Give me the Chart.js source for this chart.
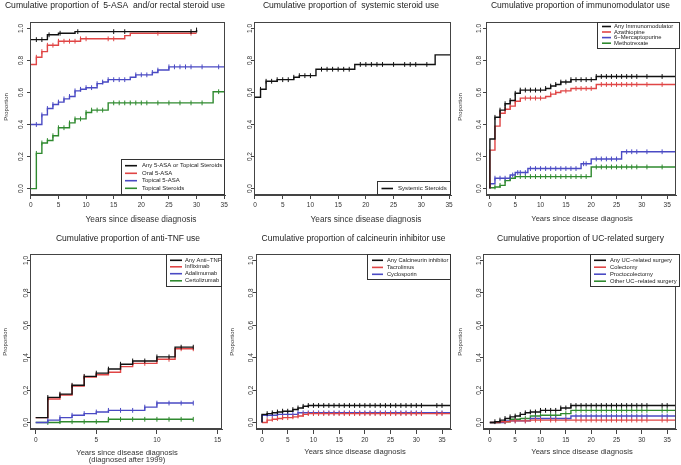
<!DOCTYPE html>
<html><head><meta charset="utf-8">
<script src="https://cdn.jsdelivr.net/npm/chart.js@4.4.1/dist/chart.umd.min.js"></script>
<style>
html,body{margin:0;padding:0;background:#fff;}
#wrap{position:relative;width:681px;height:465px;overflow:hidden;background:#fff;}
canvas{position:absolute;left:0;top:0;}
</style></head><body>
<div id="wrap">
<canvas id="p1" width="681" height="465"></canvas>
<canvas id="p2" width="681" height="465"></canvas>
<canvas id="p3" width="681" height="465"></canvas>
<canvas id="p4" width="681" height="465"></canvas>
<canvas id="p5" width="681" height="465"></canvas>
<canvas id="p6" width="681" height="465"></canvas>
</div>
<script>
// ================= DATA =================
const xTicks35 = [0,5,10,15,20,25,30,35];
const xTicks15 = [0,5,10,15];
const yTicks = [0,0.2,0.4,0.6,0.8,1.0];
const yTickLabels = ['0.0','0.2','0.4','0.6','0.8','1.0'];

const titleAsa = 'Cumulative proportion of  5-ASA  and/or rectal steroid use';
const titleSys = 'Cumulative proportion of  systemic steroid use';
const titleImm = 'Cumulative proportion of immunomodulator use';
const titleTnf = 'Cumulative proportion of anti-TNF use';
const titleCni = 'Cumulative proportion of calcineurin inhibitor use';
const titleSurg = 'Cumulative proportion of UC-related surgery';
const xAxisTitle = ['Years since disease diagnosis'];
const xAxisTitleTnf = ['Years since disease diagnosis', '(diagnosed after 1999)'];
const yAxisTitle = 'Proportion';

// Panel 1: 5-ASA / rectal steroids
const asaLabels = ['Any 5-ASA or Topical Steroids','Oral 5-ASA','Topical 5-ASA','Topical Steroids'];
const asaAnyT = [0,3,5,8,30];
const asaAnyV = [0.93,0.96,0.97,0.98,0.99];
const asaAnyEnd = 30;
const asaAnyCens = [1,2,3.3,5.3,8.5,15,17,29,30];
const oralT = [0,1,2,3,5,9,17,18];
const oralV = [0.775,0.82,0.855,0.895,0.92,0.935,0.955,0.97];
const oralEnd = 30;
const oralCens = [1,2,3,4,5,6,7,8,9,10,14,15,23,29];
const topAsaT = [0,2,3,4,5,6,7,8,9,10,12,13,14,18,19,22,23,25];
const topAsaV = [0.40,0.46,0.50,0.525,0.54,0.56,0.575,0.61,0.62,0.63,0.655,0.665,0.68,0.695,0.71,0.725,0.74,0.76];
const topAsaEnd = 35;
const topAsaCens = [1,2,3,4,5,6,7,8,9,10,11,12,13,14,15,16,17,19,20,21,22,23,25,26,27,28,29,31,34];
const topSterT = [0,1,2,3,4,5,7,8,10,11,14,33];
const topSterV = [0,0.22,0.285,0.30,0.33,0.38,0.41,0.435,0.475,0.49,0.535,0.605];
const topSterEnd = 35;
const topSterCens = [1,2,3,4,5,6,7,8,9,10,11,12,13,15,16,17,18,19,20,21,23,25,27,29,31,34];

// Panel 2: systemic steroids
const sysLabels = ['Systemic Steroids'];
const sysT = [0,1,2,4,7,8,11,18,32.5];
const sysV = [0.57,0.62,0.67,0.68,0.695,0.705,0.745,0.775,0.835];
const sysEnd = 35.4;
const sysCens = [1,2,3,4,5,6,7,8,9,10,12,13,14,15,16,17,19,20,21,22,23,25,27,28,29,31];

// Panel 3: immunomodulators
const immLabels = ['Any Immunomodulator','Azathiopine','6\u2212Mercaptopurine','Methotrexate'];
const immAnyT = [0,0,1,2,3,4,5,6,11,12,13,14,16,21];
const immAnyV = [0,0.31,0.445,0.49,0.53,0.55,0.595,0.615,0.625,0.64,0.65,0.665,0.68,0.70];
const immAnyCens = [1,2,3,4,5,6,7,8,9,10,11,12,13,14,15,16,17,18,19,20,21,22,23,24,25,26,27,28,29,31,34];
const azaT = [0,0,1,2,3,4,5,6,11,12,13,14,16,21];
const azaV = [0,0.24,0.39,0.47,0.495,0.515,0.545,0.565,0.575,0.59,0.60,0.61,0.625,0.65];
const azaCens = [2,3,4,5,7,8,9,10,12,13,15,17,18,19,20,22,23,24,25,26,27,28,29,31,34];
const mpT = [0,0,1,4,5,7.5,18,20,26];
const mpV = [0,0.03,0.065,0.085,0.10,0.125,0.155,0.185,0.23];
const mpCens = [1,2,3,4.5,5.5,6,7,8,9,10,11,12,13,14,15,16,17,18.5,19,21,22,23,24,25,27,28,29,31,34];
const mtxT = [0,1,2,3,4,5,20];
const mtxV = [0.005,0.01,0.02,0.05,0.065,0.075,0.135];
const mtxCens = [1,2,3,4,5,6,7,8,9,10,11,12,13,14,15,16,17,18,19,21,22,23,24,25,26,27,28,29,31,34];
const immEnd = 36.7;

// Panel 4: anti-TNF (diagnosed after 1999)
const tnfLabels = ['Any Anti\u2212TNF','Infliximab','Adalimumab','Certolizumab'];
const tnfAnyT = [0,1,2,3,4,5,6,7,8,10,11.5];
const tnfAnyV = [0.03,0.155,0.175,0.23,0.285,0.305,0.33,0.36,0.38,0.405,0.465];
const iflT = [0,1,2,3,4,5,6,7,8,10,11.5];
const iflV = [0.03,0.145,0.17,0.225,0.28,0.295,0.31,0.345,0.365,0.39,0.455];
const adaT = [0,1,2,3,4,5,6,9,10];
const adaV = [0,0.015,0.03,0.045,0.055,0.065,0.075,0.095,0.12];
const czpT = [0,2,6];
const czpV = [0,0.005,0.02];
const tnfEnd = 13;
const tnfCens = [1,2,3,4,5,6,7,8,9,10,11,12,13];

// Panel 5: calcineurin inhibitors
const cniLabels = ['Any Calcineurin inhibitor','Tacrolimus','Cyclosporin'];
const cniAnyT = [0,0,1,2,3,4,6,7,8,9];
const cniAnyV = [0,0.05,0.055,0.06,0.065,0.07,0.08,0.09,0.10,0.105];
const tacT = [0,1,2,3,4,6,7,8,9];
const tacV = [0,0.015,0.02,0.025,0.03,0.035,0.04,0.05,0.055];
const cycT = [0,0,3,7];
const cycV = [0,0.045,0.05,0.06];
const cniEnd = 36.7;
const cniCens = [1,2,3,4,5,6,7,8,9,10,11,12,13,14,15,16,17,18,19,20,21,22,23,24,25,26,27,28,29,30,31,34,35];

// Panel 6: UC-related surgery
const surgLabels = ['Any UC\u2212related surgery','Colectomy','Proctocolectomy','Other UC\u2212related surgery'];
const surgAnyT = [0,1,2,3,4,5,6,7,8,10,14,16];
const surgAnyV = [0,0.005,0.015,0.025,0.035,0.04,0.05,0.06,0.065,0.075,0.09,0.105];
const colT = [0,2,4,8];
const colV = [0,0.005,0.01,0.015];
const procT = [0,3,8,16];
const procV = [0,0.01,0.025,0.04];
const othT = [0,2,4,6,8,10,14,16];
const othV = [0,0.005,0.02,0.025,0.04,0.045,0.055,0.075];
const surgEnd = 36.7;
const surgAnyCens = [1,2,3,4,5,6,7,8,9,10,11,12,13,14,15,16,17,18,19,20,21,22,23,24,25,26,27,28,29,30,31,34,35];
const surgSubCens = [3,5,7,9,10,12,13,15,17,18,19,20,21,22,23,24,25,26,27,28,29,30,31,34,35];

// ================= STYLE =================
const COL = {black:'#111111', red:'#e04545', blue:'#4a4ac4', green:'#2f8a2f'};
const FONT = '"Liberation Sans", Arial, Helvetica, sans-serif';

function stepPoints(times, values, end) {
  const pts = times.map((t, i) => ({x: t, y: values[i]}));
  pts.push({x: end, y: values[values.length - 1]});
  return pts;
}
function valueAt(times, values, t) {
  let v = values[0];
  for (let i = 0; i < times.length; i++) if (times[i] <= t) v = values[i];
  return v;
}
function series(label, color, times, values, end, cens) {
  return [
    {type:'line', label, isCurve:true, data: stepPoints(times, values, end),
     borderColor: color, backgroundColor: color, borderWidth: 1.4, stepped: true,
     pointRadius: 0, fill: false, tension: 0},
    {type:'scatter', label: label + ' (censored)', data: cens.map(t => ({x: t, y: valueAt(times, values, t)})),
     pointStyle: 'line', pointRotation: 90, pointRadius: 2.4, pointBorderWidth: 1,
     pointBorderColor: color, pointBackgroundColor: color, borderColor: color, showLine: false}
  ];
}

const deco = {
  id: 'deco',
  afterDraw(chart, args, o) {
    const ctx = chart.ctx, ca = chart.chartArea, ys = chart.scales.y;
    ctx.save();
    // frame
    ctx.strokeStyle = '#444'; ctx.lineWidth = 1;
    const L = Math.round(ca.left) + 0.5, T = Math.round(ca.top) + 0.5;
    const R = Math.round(ca.right) - 0.5, B = Math.round(ca.bottom) - 0.5;
    ctx.strokeRect(L, T, R - L, B - T);
    ctx.fillStyle = '#222';
    // title
    ctx.font = o.titleSize + 'px ' + FONT;
    ctx.textAlign = 'center'; ctx.textBaseline = 'middle';
    ctx.fillText(o.title, o.titleX, o.titleY);
    // x axis title
    ctx.font = o.xTitleSize + 'px ' + FONT;
    ctx.fillStyle = '#333';
    o.xTitle.forEach((s, i) => ctx.fillText(s, o.xTitleX, o.xTitleY[i]));
    // y axis title
    if (o.yTitle) {
      ctx.save();
      ctx.font = '6px ' + FONT;
      ctx.translate(o.yTitleX, o.yTitleY); ctx.rotate(-Math.PI / 2);
      ctx.fillText(o.yTitle, 0, 0);
      ctx.restore();
    }
    // y tick labels (rotated, R style)
    ctx.font = '6.5px ' + FONT;
    yTicks.forEach((v, i) => {
      const y = ys.getPixelForValue(v);
      ctx.save(); ctx.translate(o.yLabelX, y); ctx.rotate(-Math.PI / 2);
      ctx.fillText(yTickLabels[i], 0, 0); ctx.restore();
    });
    // legend
    const lg = o.legend;
    const curves = chart.data.datasets.filter(d => d.isCurve);
    ctx.fillStyle = '#fff';
    ctx.fillRect(lg.box[0], lg.box[1], lg.box[2] - lg.box[0], lg.box[3] - lg.box[1]);
    ctx.strokeStyle = '#333'; ctx.lineWidth = 1;
    ctx.strokeRect(Math.round(lg.box[0]) + 0.5, Math.round(lg.box[1]) + 0.5,
                   Math.round(lg.box[2] - lg.box[0]) - 1, Math.round(lg.box[3] - lg.box[1]) - 1);
    ctx.font = lg.size + 'px ' + FONT;
    ctx.textAlign = 'left'; ctx.textBaseline = 'middle';
    curves.forEach((d, i) => {
      const y = lg.rows[i];
      ctx.strokeStyle = d.borderColor; ctx.lineWidth = 1.6;
      ctx.beginPath(); ctx.moveTo(lg.sx[0], y); ctx.lineTo(lg.sx[1], y); ctx.stroke();
      ctx.fillStyle = '#222';
      ctx.fillText(d.label, lg.tx, y);
    });
    ctx.restore();
  }
};

function makeChart(id, datasets, P) {
  const axisCol = '#444';
  new Chart(document.getElementById(id), {
    type: 'line',
    data: {datasets},
    options: {
      responsive: false, animation: false, events: [],
      devicePixelRatio: 1,
      layout: {padding: {left: P.box[0] - 6, top: P.box[1], right: 681 - P.box[2], bottom: 465 - P.box[3] - 16}},
      scales: {
        x: {type: 'linear', min: P.xMin, max: P.xMax,
            afterBuildTicks: s => { s.ticks = P.xTicks.map(v => ({value: v})); },
            afterFit: s => { s.height = 16; },
            grid: {drawOnChartArea: false, drawTicks: true, tickLength: P.tickLen, color: axisCol, lineWidth: 1},
            border: {display: true, color: axisCol, width: 1},
            ticks: {font: {size: 6.5, family: FONT}, color: '#333', padding: 2, maxRotation: 0, autoSkip: false}},
        y: {type: 'linear', min: -0.04, max: 1.04,
            afterBuildTicks: s => { s.ticks = yTicks.map(v => ({value: v})); },
            afterFit: s => { s.width = 6; },
            grid: {drawOnChartArea: false, drawTicks: true, tickLength: 3, color: axisCol, lineWidth: 1},
            border: {display: true, color: axisCol, width: 1},
            ticks: {display: false}}
      },
      plugins: {legend: {display: false}, tooltip: {enabled: false}, title: {display: false}, deco: P}
    },
    plugins: [deco]
  });
}

makeChart('p1', [
  ...series(asaLabels[0], COL.black, asaAnyT, asaAnyV, asaAnyEnd, asaAnyCens),
  ...series(asaLabels[1], COL.red, oralT, oralV, oralEnd, oralCens),
  ...series(asaLabels[2], COL.blue, topAsaT, topAsaV, topAsaEnd, topAsaCens),
  ...series(asaLabels[3], COL.green, topSterT, topSterV, topSterEnd, topSterCens)
], {box:[30,22,225,195], xMin:-0.15, xMax:35.15, xTicks:xTicks35, tickLen:4,
    title:titleAsa, titleX:115, titleY:6, titleSize:8.6,
    xTitle:xAxisTitle, xTitleX:141, xTitleY:[220], xTitleSize:8.3,
    yTitle:yAxisTitle, yTitleX:6, yTitleY:107, yLabelX:21,
    legend:{box:[121,159,225,195], sx:[125,137], tx:142, rows:[165.7,173.3,180.7,188.3], size:6}});

makeChart('p2', [
  ...series(sysLabels[0], COL.black, sysT, sysV, sysEnd, sysCens)
], {box:[254,22,451,195], xMin:-0.18, xMax:35.36, xTicks:xTicks35, tickLen:4,
    title:titleSys, titleX:351, titleY:6, titleSize:8.6,
    xTitle:xAxisTitle, xTitleX:366, xTitleY:[220], xTitleSize:8.3,
    yTitle:null, yLabelX:250,
    legend:{box:[377,181,451,195], sx:[381.5,393], tx:398, rows:[188.5], size:6.1}});

makeChart('p3', [
  ...series(immLabels[0], COL.black, immAnyT, immAnyV, immEnd, immAnyCens),
  ...series(immLabels[1], COL.red, azaT, azaV, immEnd, azaCens),
  ...series(immLabels[2], COL.blue, mpT, mpV, immEnd, mpCens),
  ...series(immLabels[3], COL.green, mtxT, mtxV, immEnd, mtxCens)
], {box:[486,22,680,195], xMin:-0.77, xMax:36.74, xTicks:xTicks35, tickLen:4,
    title:titleImm, titleX:580.5, titleY:6, titleSize:8.5,
    xTitle:xAxisTitle, xTitleX:582, xTitleY:[219], xTitleSize:7.6,
    yTitle:yAxisTitle, yTitleX:460, yTitleY:107, yLabelX:479,
    legend:{box:[597,22,680,49], sx:[602,611], tx:614, rows:[26.5,32,37.6,43.2], size:5.9}});

makeChart('p4', [
  ...series(tnfLabels[0], COL.black, tnfAnyT, tnfAnyV, tnfEnd, tnfCens),
  ...series(tnfLabels[1], COL.red, iflT, iflV, tnfEnd, tnfCens),
  ...series(tnfLabels[2], COL.blue, adaT, adaV, tnfEnd, tnfCens),
  ...series(tnfLabels[3], COL.green, czpT, czpV, tnfEnd, tnfCens)
], {box:[30,254,222,429], xMin:-0.47, xMax:15.37, xTicks:xTicks15, tickLen:5,
    title:titleTnf, titleX:128, titleY:239, titleSize:8.5,
    xTitle:xAxisTitleTnf, xTitleX:127, xTitleY:[452.5,459.8], xTitleSize:7.6,
    yTitle:yAxisTitle, yTitleX:5.5, yTitleY:342, yLabelX:26.5,
    legend:{box:[166,254,222,287], sx:[170,182], tx:185, rows:[260.3,266.8,273.7,280.8], size:5.8}});

makeChart('p5', [
  ...series(cniLabels[0], COL.black, cniAnyT, cniAnyV, cniEnd, cniCens),
  ...series(cniLabels[1], COL.red, tacT, tacV, cniEnd, cniCens),
  ...series(cniLabels[2], COL.blue, cycT, cycV, cniEnd, cniCens)
], {box:[256,254,451,429], xMin:-1.17, xMax:36.75, xTicks:xTicks35, tickLen:5,
    title:titleCni, titleX:353.5, titleY:239, titleSize:8.5,
    xTitle:xAxisTitle, xTitleX:355, xTitleY:[452], xTitleSize:7.6,
    yTitle:yAxisTitle, yTitleX:232, yTitleY:342, yLabelX:251.5,
    legend:{box:[367,254,451,280], sx:[372,383], tx:387, rows:[260.3,267.4,274.3], size:5.7}});

makeChart('p6', [
  ...series(surgLabels[0], COL.black, surgAnyT, surgAnyV, surgEnd, surgAnyCens),
  ...series(surgLabels[1], COL.red, colT, colV, surgEnd, surgSubCens),
  ...series(surgLabels[2], COL.blue, procT, procV, surgEnd, surgSubCens),
  ...series(surgLabels[3], COL.green, othT, othV, surgEnd, surgSubCens)
], {box:[483,254,680,429], xMin:-1.35, xMax:36.74, xTicks:xTicks35, tickLen:5,
    title:titleSurg, titleX:580.5, titleY:239, titleSize:8.5,
    xTitle:xAxisTitle, xTitleX:582, xTitleY:[452], xTitleSize:7.6,
    yTitle:yAxisTitle, yTitleX:460, yTitleY:342, yLabelX:479,
    legend:{box:[590,254,680,287], sx:[594,606], tx:610, rows:[260.3,267.2,274.2,281.2], size:5.8}});
</script>
</body></html>
